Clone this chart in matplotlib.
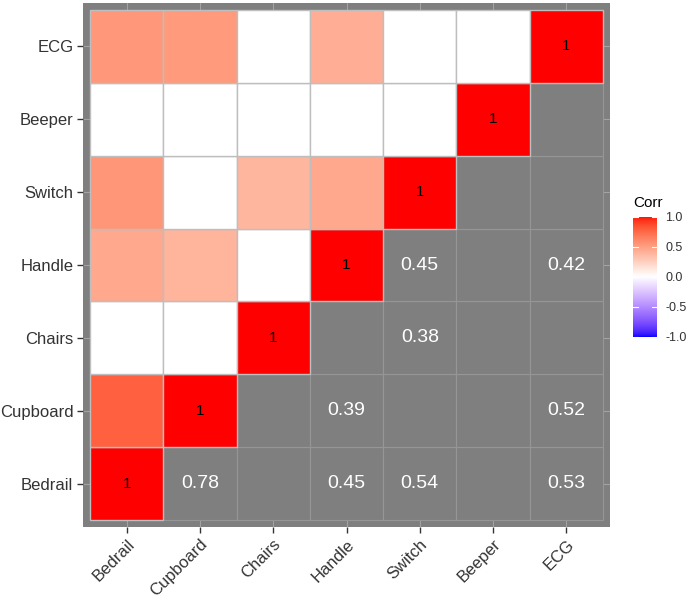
import numpy as np
import matplotlib
matplotlib.use("Agg")
import matplotlib.pyplot as plt
from matplotlib.patches import Rectangle
from matplotlib.colors import ListedColormap, to_rgb

# variables, bottom-to-top on y and left-to-right on x
labels = ["Bedrail", "Cupboard", "Chairs", "Handle", "Switch", "Beeper", "ECG"]

# significant correlations (x var, y var, r); everything else is blank
pair_x = ["Bedrail", "Bedrail", "Bedrail", "Bedrail", "Cupboard", "Cupboard", "Chairs", "Handle", "Handle"]
pair_y = ["Cupboard", "Handle", "Switch", "ECG", "Handle", "ECG", "Switch", "Switch", "ECG"]
pair_r = [0.78, 0.45, 0.54, 0.53, 0.39, 0.52, 0.38, 0.45, 0.42]

legend_ticks = [-1.0, -0.5, 0.0, 0.5, 1.0]


# ggplot-style gradient2 (interpolated in Lab)
def to_lab(c):
    c = np.array(to_rgb(c))
    lin = np.where(c <= 0.04045, c / 12.92, ((c + 0.055) / 1.055) ** 2.4)
    m = np.array([[0.4124, 0.3576, 0.1805], [0.2126, 0.7152, 0.0722], [0.0193, 0.1192, 0.9505]])
    xyz = m @ lin / np.array([0.95047, 1.0, 1.08883])
    d = 6 / 29
    f = np.where(xyz > d ** 3, np.cbrt(xyz), xyz / (3 * d * d) + 4 / 29)
    return np.array([116 * f[1] - 16, 500 * (f[0] - f[1]), 200 * (f[1] - f[2])])


def from_lab(lab):
    fy = (lab[0] + 16) / 116
    f = np.array([fy + lab[1] / 500, fy, fy - lab[2] / 200])
    d = 6 / 29
    xyz = np.where(f > d, f ** 3, 3 * d * d * (f - 4 / 29)) * np.array([0.95047, 1.0, 1.08883])
    minv = np.array([[3.2406, -1.5372, -0.4986], [-0.9689, 1.8758, 0.0415], [0.0557, -0.2040, 1.0570]])
    lin = minv @ xyz
    c = np.where(lin <= 0.0031308, 12.92 * lin, 1.055 * np.clip(lin, 0, None) ** (1 / 2.4) - 0.055)
    return np.clip(c, 0, 1)


lab_lo, lab_mid, lab_hi = to_lab("blue"), to_lab("white"), to_lab("red")


def corr_color(v):
    if v < 0:
        return from_lab(lab_mid + (lab_lo - lab_mid) * (-v))
    return from_lab(lab_mid + (lab_hi - lab_mid) * v)


cmap = ListedColormap([corr_color(v) for v in np.linspace(-1, 1, 256)])

n = len(labels)
lookup = {}
for xv, yv, r in zip(pair_x, pair_y, pair_r):
    lookup[(labels.index(xv), labels.index(yv))] = r

fig = plt.figure(figsize=(6.89, 5.98), dpi=100)
ax = fig.add_axes([0.1205, 0.1187, 0.7649, 0.8763])
ax.set_facecolor("#7F7F7F")
pad = 0.096
ax.set_xlim(-0.5 - pad, n - 0.5 + pad)
ax.set_ylim(-0.5 - pad, n - 0.5 + pad)

for k in range(n):
    ax.axvline(k, color="#A3A3A3", lw=0.8, zorder=0)
    ax.axhline(k, color="#A3A3A3", lw=0.8, zorder=0)

for i in range(n):          # x index
    for j in range(n):      # y index
        if i == j:
            ax.add_patch(Rectangle((i - 0.5, j - 0.5), 1, 1, facecolor="#FF0000",
                                   edgecolor="#BEBEBE", lw=1, zorder=2))
            ax.text(i, j, "1", ha="center", va="center", fontsize=11,
                    color="black", family="Liberation Sans", zorder=3)
        elif j > i:
            r = lookup.get((i, j))
            fc = corr_color(r) if r is not None else "white"
            ax.add_patch(Rectangle((i - 0.5, j - 0.5), 1, 1, facecolor=fc,
                                   edgecolor="#BEBEBE", lw=1, zorder=2))
        else:
            ax.add_patch(Rectangle((i - 0.5, j - 0.5), 1, 1, facecolor="#7F7F7F",
                                   edgecolor="#969696", lw=0.8, zorder=1))
            r = lookup.get((j, i))
            if r is not None:
                ax.text(i, j, f"{r:.2f}", ha="center", va="center", fontsize=14,
                        color="white", family="Liberation Sans", zorder=3)

ax.set_xticks(range(n))
ax.set_yticks(range(n))
ax.set_xticklabels(labels, rotation=45, ha="right", va="top", rotation_mode="anchor",
                   fontsize=12, color="#333333", family="Liberation Sans")
ax.set_yticklabels(labels, fontsize=12, color="#333333", family="Liberation Sans")
ax.tick_params(length=4, width=1, color="#333333", pad=3)
for s in ax.spines.values():
    s.set_visible(False)

# legend colour bar
cax = fig.add_axes([0.9187, 0.4365, 0.0348, 0.2007])
grad = np.linspace(-1, 1, 256).reshape(-1, 1)
cax.imshow(grad, cmap=cmap, aspect="auto", origin="lower", extent=(0, 1, -1, 1))
cax.set_xlim(0, 1)
cax.set_ylim(-1.0, 1.0)
for t in legend_ticks:
    cax.plot([0, 0.2], [t, t], color="white", lw=0.8)
    cax.plot([0.8, 1], [t, t], color="white", lw=0.8)
cax.set_xticks([])
cax.yaxis.tick_right()
cax.set_yticks(legend_ticks)
cax.set_yticklabels([f"{t:.1f}" for t in legend_ticks], fontsize=9,
                    color="#333333", family="Liberation Sans")
cax.tick_params(length=0, pad=6)
for s in cax.spines.values():
    s.set_visible(False)
fig.text(0.9187, 0.648, "Corr", fontsize=11, color="black",
         family="Liberation Sans", va="bottom", ha="left")

fig.savefig("out.png", dpi=100)
